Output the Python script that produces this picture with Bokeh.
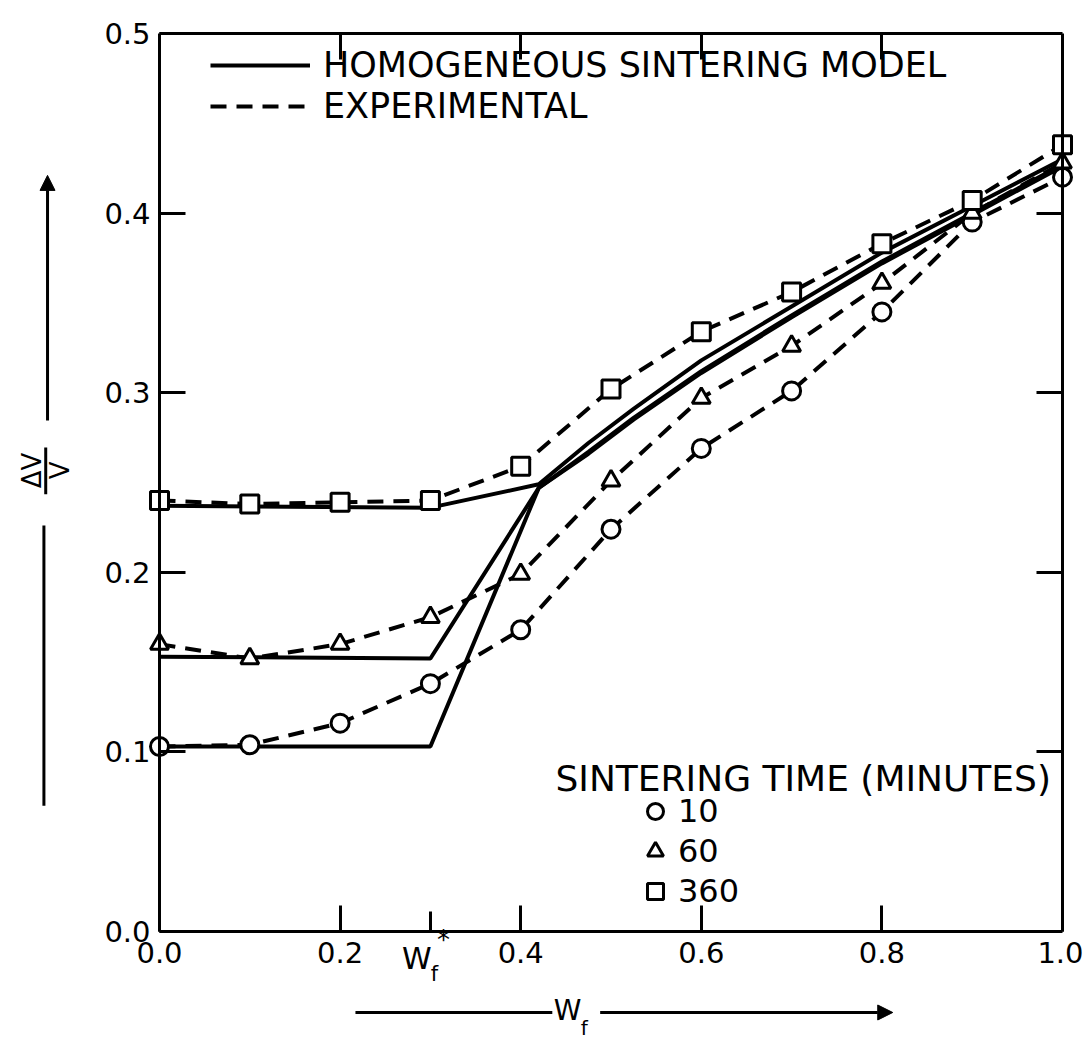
from math import pi
from bokeh.plotting import figure
from bokeh.models import (FixedTicker, LinearAxis, Legend, LegendItem, Label,
                          Arrow, NormalHead, Range1d)
from bokeh.embed import file_html
from bokeh.resources import INLINE

# ---------------- data ----------------
wf = [0.0, 0.1, 0.2, 0.3, 0.4, 0.5, 0.6, 0.7, 0.8, 0.9, 1.0]
exp_10 = [0.103, 0.104, 0.116, 0.138, 0.168, 0.224, 0.269, 0.301, 0.345, 0.395, 0.420]
exp_60 = [0.160, 0.152, 0.160, 0.175, 0.199, 0.251, 0.297, 0.326, 0.361, 0.400, 0.428]
exp_360 = [0.240, 0.238, 0.239, 0.240, 0.259, 0.302, 0.334, 0.356, 0.383, 0.407, 0.438]

model_wf = [0.0, 0.3, 0.42, 0.475, 0.525, 0.6, 0.7, 0.8, 0.9, 1.0]
model_10 = [0.103, 0.103, 0.247, 0.266, 0.285, 0.311, 0.342, 0.372, 0.399, 0.426]
model_60 = [0.153, 0.152, 0.247, 0.267, 0.286, 0.312, 0.343, 0.373, 0.400, 0.427]
model_360 = [0.237, 0.236, 0.249, 0.272, 0.291, 0.318, 0.348, 0.378, 0.404, 0.430]

x_ticks = [0.0, 0.2, 0.4, 0.6, 0.8, 1.0]
x_tick_labels = ["0.0", "0.2", "0.4", "0.6", "0.8", "1.0"]
w_star = 0.3
y_ticks = [0.0, 0.1, 0.2, 0.3, 0.4, 0.5]
y_tick_labels = ["0.0", "0.1", "0.2", "0.3", "0.4", "0.5"]
top_ticks = [0.2, 0.4, 0.6, 0.8]
right_ticks = [0.1, 0.2, 0.3, 0.4]

times = ["10", "60", "360"]
markers = ["circle", "triangle", "square"]

FONT = "DejaVu Sans"

# ---------------- layout geometry (pixels) ----------------
W, H = 1083, 1039
FX0, FX1, FY0, FY1 = 159, 1062, 931, 33      # plot box: left, right, bottom, top
sx = (FX1 - FX0) / 1.0
sy = (FY0 - FY1) / 0.5
x_rng = Range1d(-FX0 / sx, (W - FX0) / sx)
y_rng = Range1d(-(H - FY0) / sy, FY0 / sy)

p = figure(width=W, height=H, x_range=x_rng, y_range=y_rng,
           output_backend="svg", toolbar_location=None, min_border=0,
           x_axis_location=None, y_axis_location=None)
p.xgrid.visible = False
p.ygrid.visible = False
p.outline_line_color = None
p.background_fill_color = "white"
p.border_fill_color = "white"


def make_axis(ticks, labels, fixed, bounds, size="29px", standoff=10, minor=None):
    ax = LinearAxis(ticker=FixedTicker(ticks=ticks, minor_ticks=minor or []),
                    major_label_overrides={t: l for t, l in zip(ticks, labels)},
                    fixed_location=fixed, bounds=bounds)
    ax.axis_line_width = 3
    ax.axis_line_color = "black"
    ax.major_tick_in = 26
    ax.major_tick_out = 0
    ax.major_tick_line_width = 3
    ax.minor_tick_in = 20
    ax.minor_tick_out = 0
    ax.minor_tick_line_width = 3
    ax.major_label_text_font = FONT
    ax.major_label_text_font_size = size
    ax.major_label_text_color = "black"
    ax.major_label_standoff = standoff
    return ax


p.add_layout(make_axis(x_ticks, x_tick_labels, 0.0, (0.0, 1.0), minor=[w_star]), "below")
p.add_layout(make_axis(y_ticks, y_tick_labels, 0.0, (0.0, 0.5), standoff=9), "left")
p.add_layout(make_axis(top_ticks, [""] * len(top_ticks), 0.5, (0.0, 1.0), size="8px"), "above")
p.add_layout(make_axis(right_ticks, [""] * len(right_ticks), 1.0, (0.0, 0.5), size="8px"), "right")

# ---------------- model (solid) ----------------
model_rs = []
for ys in (model_10, model_60, model_360):
    model_rs.append(p.line(model_wf, ys, line_width=4, line_color="black"))

# ---------------- experimental (dashed + markers) ----------------
exp_line_rs = []
marker_rs = []
for ys in (exp_10, exp_60, exp_360):
    exp_line_rs.append(p.line(wf, ys, line_width=4, line_color="black", line_dash="16 10"))
for ys, mk in zip((exp_10, exp_60, exp_360), markers):
    marker_rs.append(p.scatter(wf, ys, marker=mk, size=18, fill_color="white",
                               line_color="black", line_width=3))

# ---------------- legends ----------------
leg1 = Legend(items=[LegendItem(label="HOMOGENEOUS SINTERING MODEL", renderers=[model_rs[0]]),
                     LegendItem(label="EXPERIMENTAL", renderers=[exp_line_rs[0]])],
              location=(210, 913), glyph_width=100, glyph_height=30, label_height=30,
              spacing=1, padding=0, margin=0, label_standoff=13,
              border_line_color=None, background_fill_alpha=0,
              label_text_font=FONT, label_text_font_size="35px", label_text_color="black")
p.add_layout(leg1)

leg2 = Legend(items=[LegendItem(label=t, renderers=[r]) for t, r in zip(times, marker_rs)],
              location=(635, 128), glyph_width=40, glyph_height=40, label_height=30,
              spacing=-3, padding=0, margin=0, label_standoff=3,
              border_line_color=None, background_fill_alpha=0,
              label_text_font=FONT, label_text_font_size="32px", label_text_color="black")
p.add_layout(leg2)

p.add_layout(Label(x=0.4385, y=0.0852, text="SINTERING TIME (MINUTES)", text_font=FONT,
                   text_font_size="36px", text_baseline="middle", text_align="left",
                   text_color="black"))

# ---------------- W_f* mark under the axis ----------------
p.add_layout(Label(x=0.285, y=-0.0150, text="W", text_font=FONT, text_font_size="30px",
                   text_color="black", text_baseline="middle", text_align="center"))
p.add_layout(Label(x=0.3045, y=-0.0235, text="f", text_font=FONT, text_font_size="21px",
                   text_color="black", text_baseline="middle", text_align="center"))
p.add_layout(Label(x=0.3145, y=-0.0045, text="*", text_font=FONT, text_font_size="26px",
                   text_color="black", text_baseline="middle", text_align="center"))

# ---------------- x-axis title with arrow ----------------
p.add_layout(Label(x=0.452, y=-0.0440, text="W", text_font=FONT, text_font_size="28px",
                   text_color="black", text_baseline="middle", text_align="center"))
p.add_layout(Label(x=0.4705, y=-0.0535, text="f", text_font=FONT, text_font_size="20px",
                   text_color="black", text_baseline="middle", text_align="center"))
p.add_layout(Arrow(end=None, x_start=0.217, y_start=-0.0451, x_end=0.435, y_end=-0.0451,
                   line_width=3, line_color="black"))
p.add_layout(Arrow(end=NormalHead(size=15, fill_color="black", line_color="black"),
                   x_start=0.488, y_start=-0.0451, x_end=0.812, y_end=-0.0451,
                   line_width=3, line_color="black"))

# ---------------- y-axis title (ΔV / V) with arrow ----------------
p.add_layout(Label(x=-0.1415, y=0.2567, text="ΔV", text_font=FONT, text_font_size="26px",
                   text_color="black", text_baseline="middle", text_align="center",
                   angle=pi / 2))
p.add_layout(Label(x=-0.1105, y=0.2567, text="V", text_font=FONT, text_font_size="26px",
                   text_color="black", text_baseline="middle", text_align="center",
                   angle=pi / 2))
p.add_layout(Arrow(end=None, x_start=-0.126, y_start=0.2435, x_end=-0.126, y_end=0.2695,
                   line_width=3, line_color="black"))
p.add_layout(Arrow(end=NormalHead(size=15, fill_color="black", line_color="black"),
                   x_start=-0.124, y_start=0.2845, x_end=-0.124, y_end=0.421,
                   line_width=3, line_color="black"))
p.add_layout(Arrow(end=None, x_start=-0.128, y_start=0.226, x_end=-0.128, y_end=0.070,
                   line_width=3, line_color="black"))

open("out.html", "w").write(file_html(p, INLINE))
